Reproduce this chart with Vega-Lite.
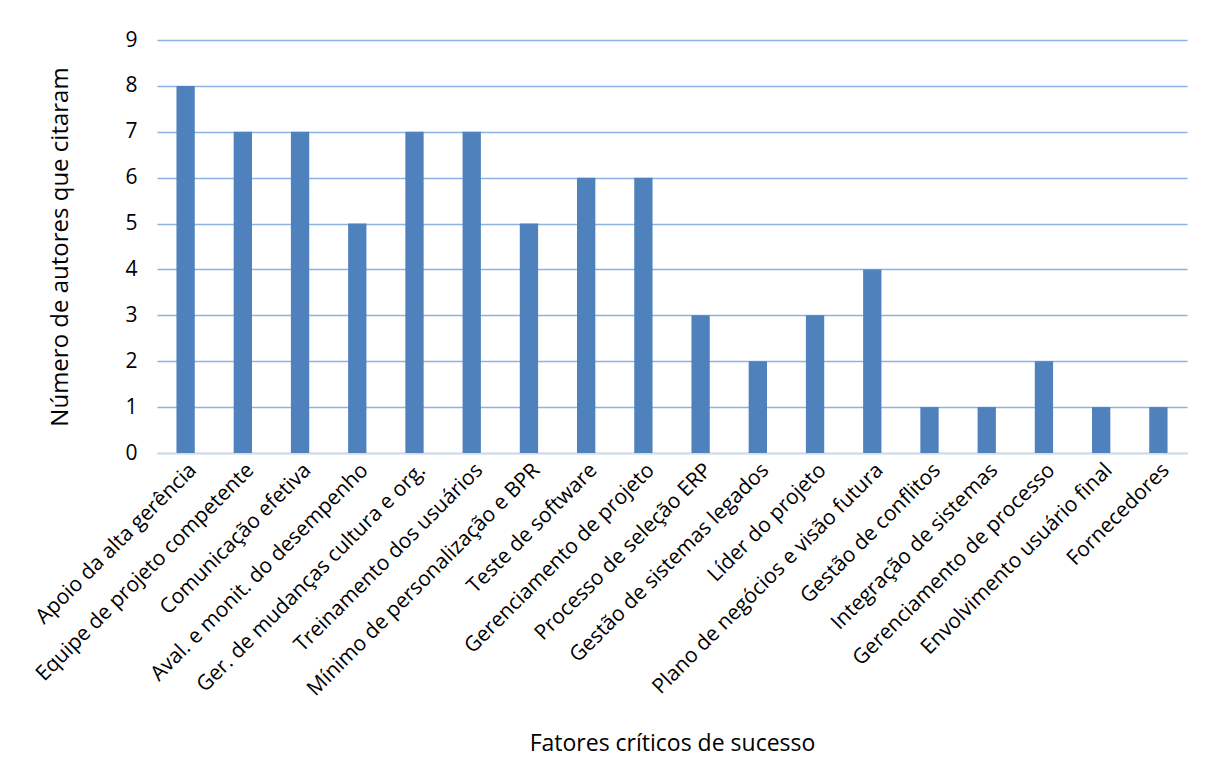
{
  "$schema": "https://vega.github.io/schema/vega-lite/v6.json",
  "width": 1030,
  "height": 413,
  "autosize": {"type": "none"},
  "padding": {"left": 157, "top": 40, "right": 29, "bottom": 328},
  "background": "white",
  "config": {
    "view": {"stroke": null},
    "font": "Open Sans"
  },
  "data": {
    "values": [
      {"fator": "Apoio da alta gerência", "n": 8},
      {"fator": "Equipe de projeto competente", "n": 7},
      {"fator": "Comunicação efetiva", "n": 7},
      {"fator": "Aval. e monit. do desempenho", "n": 5},
      {"fator": "Ger. de mudanças cultura e org.", "n": 7},
      {"fator": "Treinamento dos usuários", "n": 7},
      {"fator": "Mínimo de personalização e BPR", "n": 5},
      {"fator": "Teste de software", "n": 6},
      {"fator": "Gerenciamento de projeto", "n": 6},
      {"fator": "Processo de seleção ERP", "n": 3},
      {"fator": "Gestão de sistemas legados", "n": 2},
      {"fator": "Líder do projeto", "n": 3},
      {"fator": "Plano de negócios e visão futura", "n": 4},
      {"fator": "Gestão de conflitos", "n": 1},
      {"fator": "Integração de sistemas", "n": 1},
      {"fator": "Gerenciamento de processo", "n": 2},
      {"fator": "Envolvimento usuário final", "n": 1},
      {"fator": "Fornecedores", "n": 1}
    ]
  },
  "mark": {"type": "bar", "color": "#4F81BD"},
  "encoding": {
    "x": {
      "field": "fator",
      "type": "nominal",
      "sort": null,
      "scale": {"paddingInner": 0.68, "paddingOuter": 0.34},
      "axis": {
        "title": "Fatores críticos de sucesso",
        "titleFont": "Open Sans",
        "titleFontSize": 23,
        "titleFontWeight": "normal",
        "titleColor": "#000000",
        "titlePadding": 79,
        "labelAngle": -45,
        "labelFontSize": 21,
        "labelColor": "#000000",
        "labelPadding": 6,
        "labelLimit": 400,
        "labelOverlap": false,
        "ticks": false,
        "domainColor": "#D9D9D9",
        "domainWidth": 1.5
      }
    },
    "y": {
      "field": "n",
      "type": "quantitative",
      "scale": {"domain": [0, 9]},
      "axis": {
        "title": "Número de autores que citaram",
        "titleFont": "Open Sans",
        "titleFontSize": 24,
        "titleFontWeight": "normal",
        "titleColor": "#000000",
        "titlePadding": 52,
        "values": [0, 1, 2, 3, 4, 5, 6, 7, 8, 9],
        "labelOverlap": false,
        "labelFontSize": 21,
        "labelColor": "#000000",
        "labelPadding": 20,
        "ticks": false,
        "domain": false,
        "grid": true,
        "gridColor": "#8DB3E2",
        "gridWidth": 1.3
      }
    }
  }
}
